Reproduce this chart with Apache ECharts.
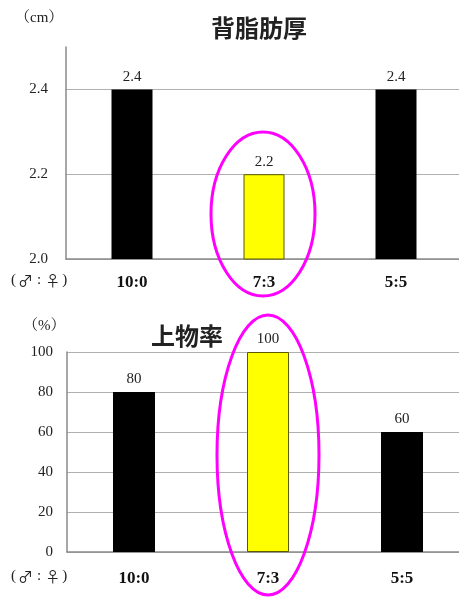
<!DOCTYPE html>
<html>
<head>
<meta charset="utf-8">
<script src="https://cdn.jsdelivr.net/npm/echarts@6/dist/echarts.min.js"></script>
<style>html,body{margin:0;padding:0;background:#fff;}#c{width:459px;height:597px;}</style>
</head>
<body>
<div id="c"></div>
<script>
const categories = ['10:0', '7:3', '5:5'];
const fatValues = [2.4, 2.2, 2.4];
const gradeValues = [80, 100, 60];
const fatTicks = [2.0, 2.2, 2.4];
const gradeTicks = [0, 20, 40, 60, 80, 100];
const highlightIndex = 1;
const titles = ['背脂肪厚', '上物率'];
const units = ['（cm）', '（%）'];
const sexLabel = '{p|(}{s|♂}{c|:}{s|♀}{p|)}';

const SERIF = '"Liberation Serif", "Noto Serif CJK JP", serif';
const GOTHIC = '"Noto Sans CJK JP", sans-serif';

function barData(vals) {
  return vals.map((v, i) => ({
    value: v,
    itemStyle: i === highlightIndex
      ? { color: '#ffff00', borderColor: '#5a5a00', borderWidth: 1 }
      : { color: '#000000' }
  }));
}

const sexRich = {
  p: { fontFamily: SERIF, fontSize: 15, fill: '#222', padding: [0, 1] },
  c: { fontFamily: SERIF, fontSize: 15, fill: '#222', padding: [0, 3] },
  s: { fontFamily: GOTHIC, fontSize: 15, fill: '#222', padding: [0, 1] }
};

const chart = echarts.init(document.getElementById('c'), null, { renderer: 'canvas' });
chart.setOption({
  backgroundColor: '#ffffff',
  animation: false,
  title: [
    { text: titles[0], left: 254, top: 11, textAlign: 'center',
      textStyle: { fontFamily: GOTHIC, fontSize: 24, fontWeight: 'bold', color: '#222' } },
    { text: titles[1], left: 182, top: 319, textAlign: 'center',
      textStyle: { fontFamily: GOTHIC, fontSize: 24, fontWeight: 'bold', color: '#222' } }
  ],
  grid: [
    { left: 66, width: 396, top: 47, height: 212, outerBoundsMode: 'none', containLabel: false },
    { left: 67, width: 402, top: 352, height: 200, outerBoundsMode: 'none', containLabel: false }
  ],
  xAxis: [
    { type: 'category', gridIndex: 0, data: categories,
      axisLine: { lineStyle: { color: '#8a8a8a', width: 1.5 } },
      axisTick: { show: false },
      axisLabel: { margin: 15, fontFamily: SERIF, fontSize: 17, fontWeight: 'bold', color: '#111' } },
    { type: 'category', gridIndex: 1, data: categories,
      axisLine: { lineStyle: { color: '#8a8a8a', width: 1.5 } },
      axisTick: { show: false },
      axisLabel: { margin: 18, fontFamily: SERIF, fontSize: 17, fontWeight: 'bold', color: '#111' } }
  ],
  yAxis: [
    { type: 'value', gridIndex: 0, min: 2.0, max: 2.5, interval: 0.1,
      axisLine: { show: true, lineStyle: { color: '#8a8a8a', width: 1.5 } },
      axisTick: { show: false },
      axisLabel: { margin: 18, fontFamily: SERIF, fontSize: 15, color: '#222',
        formatter: v => fatTicks.includes(+(+v).toFixed(1)) ? (+v).toFixed(1) : '' },
      splitLine: { show: true, showMaxLine: false,
        lineStyle: { color: ['#b0b0b0', 'rgba(0,0,0,0)'], width: 1 } } },
    { type: 'value', gridIndex: 1, min: 0, max: 100, interval: 20,
      axisLine: { show: true, lineStyle: { color: '#8a8a8a', width: 1.5 } },
      axisTick: { show: false },
      axisLabel: { margin: 14, fontFamily: SERIF, fontSize: 15, color: '#222',
        formatter: v => gradeTicks.includes(v) ? String(v) : '' },
      splitLine: { show: true, lineStyle: { color: '#b0b0b0', width: 1 } } }
  ],
  series: [
    { type: 'bar', xAxisIndex: 0, yAxisIndex: 0, data: barData(fatValues), barWidth: 41,
      label: { show: true, position: 'top', distance: 5, fontFamily: SERIF, fontSize: 15, color: '#222',
        formatter: p => (+p.value).toFixed(1) } },
    { type: 'bar', xAxisIndex: 1, yAxisIndex: 1, data: barData(gradeValues), barWidth: 42,
      label: { show: true, position: 'top', distance: 5, fontFamily: SERIF, fontSize: 15, color: '#222' } }
  ],
  graphic: [
    { type: 'text', left: 15, top: 11, style: { text: units[0], font: '15px ' + SERIF, fill: '#222' } },
    { type: 'text', left: 23, top: 319, style: { text: units[1], font: '15px ' + SERIF, fill: '#222' } },
    { type: 'text', left: 11, top: 273, style: { text: sexLabel, rich: sexRich } },
    { type: 'text', left: 11, top: 569, style: { text: sexLabel, rich: sexRich } },
    { type: 'ellipse', z: 100, shape: { cx: 263, cy: 214, rx: 52, ry: 82 },
      style: { fill: 'none', stroke: '#ff00ff', lineWidth: 3 } },
    { type: 'ellipse', z: 100, shape: { cx: 268, cy: 455, rx: 51, ry: 140 },
      style: { fill: 'none', stroke: '#ff00ff', lineWidth: 3 } }
  ]
});
</script>
</body>
</html>
